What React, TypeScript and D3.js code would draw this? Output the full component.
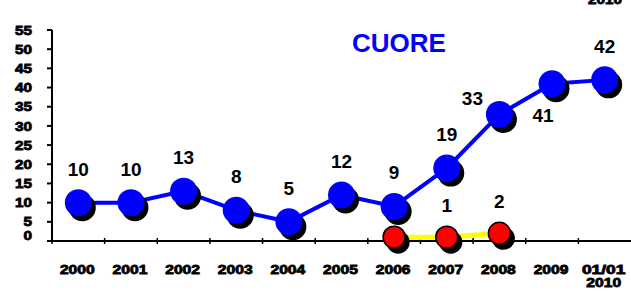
import * as d3 from "d3";

const categories = ["2000", "2001", "2002", "2003", "2004", "2005", "2006", "2007", "2008", "2009", "01/01\n2010"];
const cuoreValues = [10, 10, 13, 8, 5, 12, 9, 19, 33, 41, 42];
const redCategories = ["2006", "2007", "2008"];
const redValues = [1, 1, 2];
const yTicks = [0, 5, 10, 15, 20, 25, 30, 35, 40, 45, 50, 55];
// where the value label sits relative to its point
const cuoreLabelPos = ["above", "above", "above", "above", "above", "above", "above", "above", "left", "below", "above"];

const width = 631;
const height = 292;
const font = "'Liberation Sans', Arial, sans-serif";

const App = () => {
  const x = d3.scaleBand<string>().domain(categories).range([52, 631]);
  const y = d3.scaleLinear().domain([0, 55]).range([241, 30]);
  const cx = (c: string) => (x(c) ?? 0) + x.bandwidth() / 2;

  const blueLine = d3
    .line<number>()
    .x((_, i) => cx(categories[i]))
    .y((d) => y(d));
  const redLine = d3
    .line<number>()
    .x((_, i) => cx(redCategories[i]))
    .y((d) => y(d));

  const labelOffset = (pos: string) => {
    if (pos === "left") return [-27, -9];
    if (pos === "below") return [-9, 38];
    return [0, -27];
  };

  return (
    <svg
      width={width}
      height={height}
      viewBox={`0 0 ${width} ${height}`}
      style={{ position: "absolute", left: 0, top: 0 }}
      fontFamily={font}
    >
      <rect width={width} height={height} fill="#fff" />

      {/* cut-off label at the top edge */}
      <text x={605} y={4} textAnchor="middle" fontSize={12.5} fontWeight="bold" stroke="#000" strokeWidth={0.8} textLength={34} lengthAdjust="spacingAndGlyphs">
        2010
      </text>

      {/* y axis */}
      <line x1={52} x2={52} y1={y(55)} y2={y(0)} stroke="#000" strokeWidth={2} />
      {yTicks.map((t) => (
        <g key={t}>
          <line x1={47} x2={52} y1={y(t)} y2={y(t)} stroke="#000" strokeWidth={2} />
          <text
            x={32}
            y={y(t) + (t === 0 ? -6 : 0)}
            dy="0.36em"
            textAnchor="end"
            fontSize={13}
            fontWeight="bold"
            stroke="#000"
            strokeWidth={0.8}
            textLength={String(t).length * 8.5}
            lengthAdjust="spacingAndGlyphs"
          >
            {t}
          </text>
        </g>
      ))}

      {/* x axis */}
      <line x1={52} x2={631} y1={y(0)} y2={y(0)} stroke="#000" strokeWidth={2} />
      {categories.map((c) => (
        <line key={c} x1={x(c)} x2={x(c)} y1={y(0) - 3} y2={y(0) + 3} stroke="#000" strokeWidth={1.5} />
      ))}
      {categories.map((c) => {
        const lines = c.split("\n");
        return (
          <text key={c} textAnchor="middle" fontSize={12.5} fontWeight="bold" stroke="#000" strokeWidth={0.8}>
            {lines.map((l, j) => (
              <tspan
                key={j}
                x={cx(c) - 1}
                y={274 + j * 13}
                textLength={l.length * 8.7}
                lengthAdjust="spacingAndGlyphs"
              >
                {l}
              </tspan>
            ))}
          </text>
        );
      })}

      {/* title */}
      <text x={399} y={52} textAnchor="middle" fontSize={26} fontWeight="bold" fill="#0000ff">
        CUORE
      </text>

      {/* red series labels (behind the blue markers) */}
      {redValues.map((v, i) => (
        <text key={i} x={cx(redCategories[i])} y={y(v) - 25} textAnchor="middle" fontSize={19} fontWeight="bold">
          {v}
        </text>
      ))}

      {/* blue series */}
      <path d={blueLine(cuoreValues) ?? undefined} fill="none" stroke="#0000ff" strokeWidth={4} />
      {cuoreValues.map((v, i) => (
        <circle key={i} cx={cx(categories[i]) + 4} cy={y(v) + 5} r={13.5} fill="#000" />
      ))}
      {cuoreValues.map((v, i) => (
        <circle key={i} cx={cx(categories[i])} cy={y(v)} r={13.5} fill="#0000ff" />
      ))}
      {cuoreValues.map((v, i) => {
        const [dx, dy] = labelOffset(cuoreLabelPos[i]);
        return (
          <text key={i} x={cx(categories[i]) + dx} y={y(v) + dy} textAnchor="middle" fontSize={19} fontWeight="bold">
            {v}
          </text>
        );
      })}

      {/* red series */}
      <path d={redLine(redValues) ?? undefined} fill="none" stroke="#ffff00" strokeWidth={5} />
      {redValues.map((v, i) => (
        <circle key={i} cx={cx(redCategories[i]) + 4} cy={y(v) + 5} r={11.5} fill="#000" />
      ))}
      {redValues.map((v, i) => (
        <circle key={i} cx={cx(redCategories[i])} cy={y(v)} r={11} fill="#ff0000" stroke="#000" strokeWidth={1.5} />
      ))}
    </svg>
  );
};

export default App;
